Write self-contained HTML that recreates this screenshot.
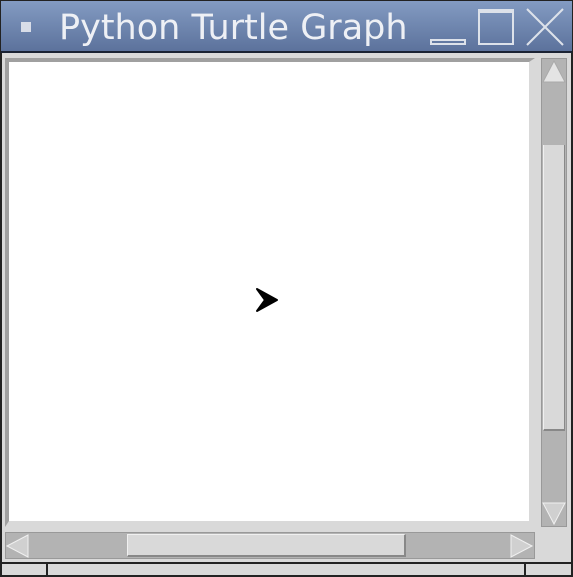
<!DOCTYPE html>
<html><head><style>
body{margin:0;width:573px;height:577px;overflow:hidden;background:#d9d9d9;position:relative;font-family:"DejaVu Sans","Liberation Sans",sans-serif}
div{position:absolute;box-sizing:border-box}
</style></head><body>
<div style="left:0;top:0;width:573px;height:577px;border:2px solid #222;background:#d9d9d9"></div>
<div style="left:1px;top:1px;width:571px;height:52px;background:linear-gradient(#839bc2,#5c729c);border-bottom:2px solid #1a2233"></div>
<div style="left:21px;top:22px;width:10px;height:10px;background:#d8dde8"></div>
<div style="left:59px;top:7px;color:#eef0f5;font-size:35px;line-height:42px;white-space:nowrap">Python Turtle Graph</div>
<div style="left:430px;top:39px;width:36px;height:6px;border:2px solid #dde2ea"></div>
<div style="left:478px;top:9px;width:36px;height:36px;border:2px solid #dde2ea;border-top-width:4px"></div>
<svg style="position:absolute;left:0;top:0" width="573" height="577">
<line x1="527" y1="9" x2="563" y2="45" stroke="#dde2ea" stroke-width="2"/>
<line x1="563" y1="9" x2="527" y2="45" stroke="#dde2ea" stroke-width="2"/>
</svg>
<div style="left:5px;top:58px;width:530px;height:469px;border-top:4px solid #a0a0a0;border-left:4px solid #a0a0a0;background:#fff;border-right:6px solid #d9d9d9;border-bottom:6px solid #d9d9d9"></div>
<div style="left:541px;top:58px;width:26px;height:469px;background:#b3b3b3;border:1px solid #999"></div>
<div style="left:543px;top:145px;width:22px;height:286px;background:#d9d9d9;border-left:1px solid #f0f0f0;border-bottom:2px solid #888;border-right:1px solid #888"></div>
<div style="left:5px;top:532px;width:530px;height:27px;background:#b3b3b3;border:1px solid #999"></div>
<div style="left:127px;top:534px;width:279px;height:23px;background:#d9d9d9;border-top:1px solid #f0f0f0;border-left:1px solid #f0f0f0;border-bottom:2px solid #888;border-right:2px solid #888"></div>
<svg style="position:absolute;left:0;top:0" width="573" height="577">
<polygon points="554,61 543,82 565,82" fill="#e4e4e4" stroke="#aaa"/>
<polygon points="543,503 565,503 554,524" fill="#d0d0d0" stroke="#f0f0f0"/>
<polygon points="7,546 28,535 28,557" fill="#d0d0d0" stroke="#f0f0f0"/>
<polygon points="532,546 511,535 511,557" fill="#d0d0d0" stroke="#f0f0f0"/>
<polygon points="277,300 257,289 265,300 257,311" fill="#000" stroke="#000" stroke-width="2" stroke-linejoin="round"/>
<line x1="1" y1="563" x2="572" y2="563" stroke="#222" stroke-width="2"/>
<line x1="47" y1="563" x2="47" y2="577" stroke="#222" stroke-width="2"/>
<line x1="525" y1="563" x2="525" y2="577" stroke="#222" stroke-width="2"/>
</svg>
</body></html>
